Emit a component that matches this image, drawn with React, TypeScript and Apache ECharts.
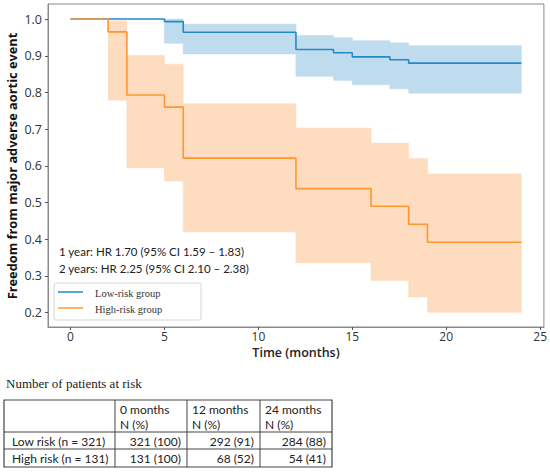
import React, { useEffect, useRef } from "react";
import * as echarts from "echarts";

// Kaplan-Meier step data (time in months)
const lowTimes = [0, 5, 6, 12, 14, 15, 17, 18, 24];
const lowSurv = [1.0, 0.993, 0.964, 0.917, 0.908, 0.897, 0.889, 0.88, 0.88];
const lowUpper = [1.0, 1.0, 0.986, 0.955, 0.949, 0.941, 0.935, 0.927];
const lowLower = [1.0, 0.934, 0.905, 0.844, 0.833, 0.821, 0.81, 0.798];

const highTimes = [0, 2, 3, 5, 6, 12, 16, 18, 19, 24];
const highSurv = [1.0, 0.965, 0.793, 0.76, 0.621, 0.538, 0.49, 0.441, 0.392, 0.392];
const highUpper = [1.0, 0.995, 0.901, 0.877, 0.769, 0.703, 0.662, 0.62, 0.578];
const highLower = [1.0, 0.779, 0.595, 0.559, 0.42, 0.336, 0.288, 0.243, 0.201];

const xTicks = [0, 5, 10, 15, 20, 25];
const yTicks = [0.2, 0.3, 0.4, 0.5, 0.6, 0.7, 0.8, 0.9, 1.0];

const seriesNames = ["Low-risk group", "High-risk group"];
const hrLines = [
  "1 year: HR 1.70 (95% CI 1.59 \u2013 1.83)",
  "2 years: HR 2.25 (95% CI 2.10 \u2013 2.38)",
];

const tableTitle = "Number of patients at risk";
const tableHeader = ["", "0 months", "12 months", "24 months"];
const tableSub = ["", "N (%)", "N (%)", "N (%)"];
const tableRows = [
  ["Low risk (n = 321)", "321 (100)", "292 (91)", "284 (88)"],
  ["High risk (n = 131)", "131 (100)", "68 (52)", "54 (41)"],
];

const BLUE = "#238ac7";
const BLUE_BAND = "#bedcee";
const ORANGE = "#ff9730";
const ORANGE_BAND = "#fddcbf";

function bandData(times: number[], lo: number[], hi: number[]) {
  const out: number[][] = [];
  for (let i = 0; i < times.length - 1; i++) {
    if (hi[i] !== lo[i]) out.push([times[i], times[i + 1], lo[i], hi[i]]);
  }
  return out;
}

function bandSeries(name: string, data: number[][], color: string) {
  return {
    type: "custom",
    name,
    silent: true,
    z: 1,
    encode: { x: [0, 1], y: [2, 3] },
    data,
    renderItem: (params: any, api: any) => {
      const p0 = api.coord([api.value(0), api.value(3)]);
      const p1 = api.coord([api.value(1), api.value(2)]);
      return {
        type: "rect",
        shape: { x: p0[0], y: p0[1], width: p1[0] - p0[0], height: p1[1] - p0[1] },
        style: { fill: color, stroke: color, lineWidth: 0.6 },
      };
    },
  };
}

const SANS = "'Open Sans', 'DejaVu Sans', sans-serif";
const NARROW = "Lato, 'Open Sans', sans-serif";
const SERIF = "'Liberation Serif', 'DejaVu Serif', serif";

// table layout
const colX = [4, 115, 187, 260, 332];
const rowY = [400, 432, 449, 467];

export default function App() {
  const ref = useRef<HTMLDivElement>(null);
  useEffect(() => {
    if (!ref.current) return;
    const chart = echarts.init(ref.current, null, { renderer: "svg" });

    const tableGraphics: any[] = [];
    tableGraphics.push({
      type: "text",
      x: 6,
      y: 383,
      style: { text: tableTitle, font: `13px ${SERIF}`, fill: "#222", verticalAlign: "middle" },
    });
    tableGraphics.push({
      type: "rect",
      shape: { x: colX[0], y: rowY[0], width: colX[4] - colX[0], height: rowY[3] - rowY[0] },
      style: { fill: "none", stroke: "#444", lineWidth: 1.2 },
    });
    for (let i = 1; i < 4; i++) {
      tableGraphics.push({
        type: "line",
        shape: { x1: colX[i], y1: rowY[0], x2: colX[i], y2: rowY[3] },
        style: { stroke: "#444", lineWidth: 1 },
      });
    }
    for (let j = 1; j < 3; j++) {
      tableGraphics.push({
        type: "line",
        shape: { x1: colX[0], y1: rowY[j], x2: colX[4], y2: rowY[j] },
        style: { stroke: "#444", lineWidth: 1 },
      });
    }
    const cellFont = `12px ${NARROW}`;
    for (let i = 1; i < 4; i++) {
      tableGraphics.push({
        type: "text",
        x: colX[i] + 5,
        y: 409,
        style: { text: tableHeader[i], font: cellFont, fill: "#222", verticalAlign: "middle" },
      });
      tableGraphics.push({
        type: "text",
        x: colX[i] + 5,
        y: 424,
        style: { text: tableSub[i], font: cellFont, fill: "#222", verticalAlign: "middle" },
      });
    }
    tableRows.forEach((row, r) => {
      const yc = (rowY[r + 1] + rowY[r + 2]) / 2 + 0.5;
      row.forEach((cell, c) => {
        if (c === 0) {
          tableGraphics.push({
            type: "text",
            x: colX[0] + 8,
            y: yc,
            style: { text: cell, font: cellFont, fill: "#222", verticalAlign: "middle" },
          });
        } else {
          tableGraphics.push({
            type: "text",
            x: colX[c + 1] - 6,
            y: yc,
            style: { text: cell, font: cellFont, fill: "#222", align: "right", verticalAlign: "middle" },
          });
        }
      });
    });

    const legendGraphics: any[] = [
      {
        type: "rect",
        shape: { x: 54, y: 283, width: 147, height: 37, r: 2 },
        style: { fill: "rgba(255,255,255,0.8)", stroke: "#d6d6d6", lineWidth: 1 },
        z: 10,
      },
      {
        type: "line",
        shape: { x1: 58, y1: 292, x2: 83, y2: 292 },
        style: { stroke: BLUE, lineWidth: 1.5 },
        z: 11,
      },
      {
        type: "line",
        shape: { x1: 58, y1: 308, x2: 83, y2: 308 },
        style: { stroke: ORANGE, lineWidth: 1.5 },
        z: 11,
      },
      {
        type: "text",
        x: 95,
        y: 293,
        style: { text: seriesNames[0], font: `10.5px ${SERIF}`, fill: "#333", verticalAlign: "middle" },
        z: 11,
      },
      {
        type: "text",
        x: 95,
        y: 309,
        style: { text: seriesNames[1], font: `10.5px ${SERIF}`, fill: "#333", verticalAlign: "middle" },
        z: 11,
      },
    ];

    const option: any = {
      animation: false,
      backgroundColor: "#fff",
      grid: {
        left: 48,
        top: 4,
        right: 6,
        bottom: 145,
        show: true,
        borderColor: "#8a8a8a",
        borderWidth: 1,
        backgroundColor: "transparent",
      },
      xAxis: {
        type: "value",
        min: -1.2,
        max: 25.2,
        splitLine: { show: false },
        axisLine: { show: true, onZero: false, lineStyle: { color: "#8a8a8a" } },
        axisTick: { show: true, length: 3, customValues: xTicks, lineStyle: { color: "#555" } },
        axisLabel: {
          customValues: xTicks,
          color: "#333",
          fontFamily: SANS,
          fontSize: 12,
          lineHeight: 12,
          margin: 3,
          formatter: (v: number) => String(v),
        },
      },
      yAxis: {
        type: "value",
        min: 0.161,
        max: 1.041,
        splitLine: { show: false },
        axisLine: { show: true, onZero: false, lineStyle: { color: "#8a8a8a" } },
        axisTick: { show: true, length: 3, customValues: yTicks, lineStyle: { color: "#555" } },
        axisLabel: {
          customValues: yTicks,
          color: "#333",
          fontFamily: SANS,
          fontSize: 12.5,
          margin: 6,
          formatter: (v: number) => v.toFixed(1),
        },
      },
      graphic: [
        {
          type: "text",
          x: 12,
          y: 166,
          rotation: Math.PI / 2,
          style: {
            text: "Freedom from major adverse aortic event",
            font: `bold 12.8px ${SANS}`,
            fill: "#111",
            align: "center",
            verticalAlign: "middle",
          },
        },
        {
          type: "text",
          x: 296,
          y: 352,
          style: {
            text: "Time (months)",
            font: `600 12.5px ${SANS}`,
            fill: "#222",
            align: "center",
            verticalAlign: "middle",
            lineHeight: 13,
          },
        },
        {
          type: "text",
          x: 59,
          y: 251,
          style: { text: hrLines[0], font: `11.5px ${NARROW}`, fill: "#222", verticalAlign: "middle" },
          z: 11,
        },
        {
          type: "text",
          x: 59,
          y: 268,
          style: { text: hrLines[1], font: `11.5px ${NARROW}`, fill: "#222", verticalAlign: "middle" },
          z: 11,
        },
        ...legendGraphics,
        ...tableGraphics,
      ],
      series: [
        bandSeries("Low-risk CI", bandData(lowTimes, lowLower, lowUpper), BLUE_BAND),
        bandSeries("High-risk CI", bandData(highTimes, highLower, highUpper), ORANGE_BAND),
        {
          type: "line",
          name: seriesNames[0],
          step: "end",
          symbol: "none",
          z: 3,
          lineStyle: { color: BLUE, width: 1.6 },
          data: lowTimes.map((t, i) => [t, lowSurv[i]]),
        },
        {
          type: "line",
          name: seriesNames[1],
          step: "end",
          symbol: "none",
          z: 4,
          lineStyle: { color: ORANGE, width: 1.6 },
          data: highTimes.map((t, i) => [t, highSurv[i]]),
        },
      ],
    };
    chart.setOption(option);
    return () => chart.dispose();
  }, []);
  return (
    <div
      ref={ref}
      style={{ position: "fixed", left: 0, top: 0, width: 550, height: 472, background: "#fff" }}
    />
  );
}
